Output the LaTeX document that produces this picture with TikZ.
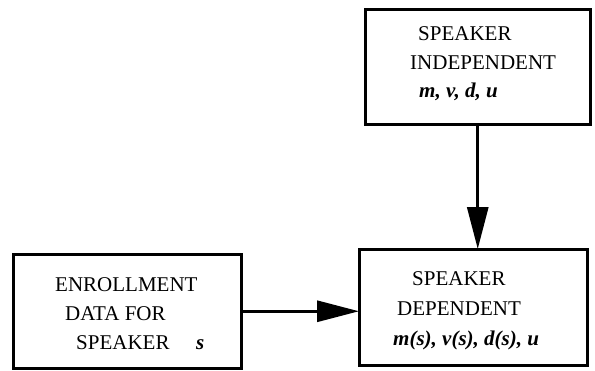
\documentclass[tikz,border=0pt]{standalone}
\usepackage{fontspec}
\setmainfont{Liberation Serif}
\usetikzlibrary{arrows.meta}
\begin{document}
\begin{tikzpicture}[x=1pt,y=-1pt,
  boxnode/.style={draw,line width=3pt,inner sep=0pt,outer sep=0pt},
  txt/.style={anchor=base west,inner sep=0pt,font=\fontsize{21}{25}\selectfont},
  arr/.style={line width=3pt,-{Triangle[length=42pt,width=21pt]}}]
\useasboundingbox (0,0) rectangle (595,370);
\node[boxnode,minimum width=225.5pt,minimum height=115pt] (top) at (477.75,67) {};
\node[boxnode,minimum width=228pt,minimum height=113.5pt] (enr) at (127,311.25) {};
\node[boxnode,minimum width=228pt,minimum height=116pt] (dep) at (473,307) {};
% top box text
\node[txt] (t1) at (418,40) {SPEAKER};
\node[txt] (t2) at (410,69) {INDEPENDENT};
\node[txt] (t3) at (419,97) {\textbf{\textit{m, v, d, u}}};
% enrollment text
\node[txt] (e1) at (55,291) {ENROLLMENT};
\node[txt] (e2) at (65,320) {DATA FOR};
\node[txt] (e3) at (76,349) {SPEAKER};
\node[txt] (e4) at (196,349) {\textbf{\textit{s}}};
% dependent text
\node[txt] (d1) at (412,285) {SPEAKER};
\node[txt] (d2) at (397,315) {DEPENDENT};
\node[txt] (d3) at (393,345) {\textbf{\textit{m(s), v(s), d(s), u}}};
% arrows
\draw[arr] (top.south) -- (top.south |- dep.north);
\draw[arr] (enr.east) -- (enr.east -| dep.west);
\end{tikzpicture}
\end{document}
